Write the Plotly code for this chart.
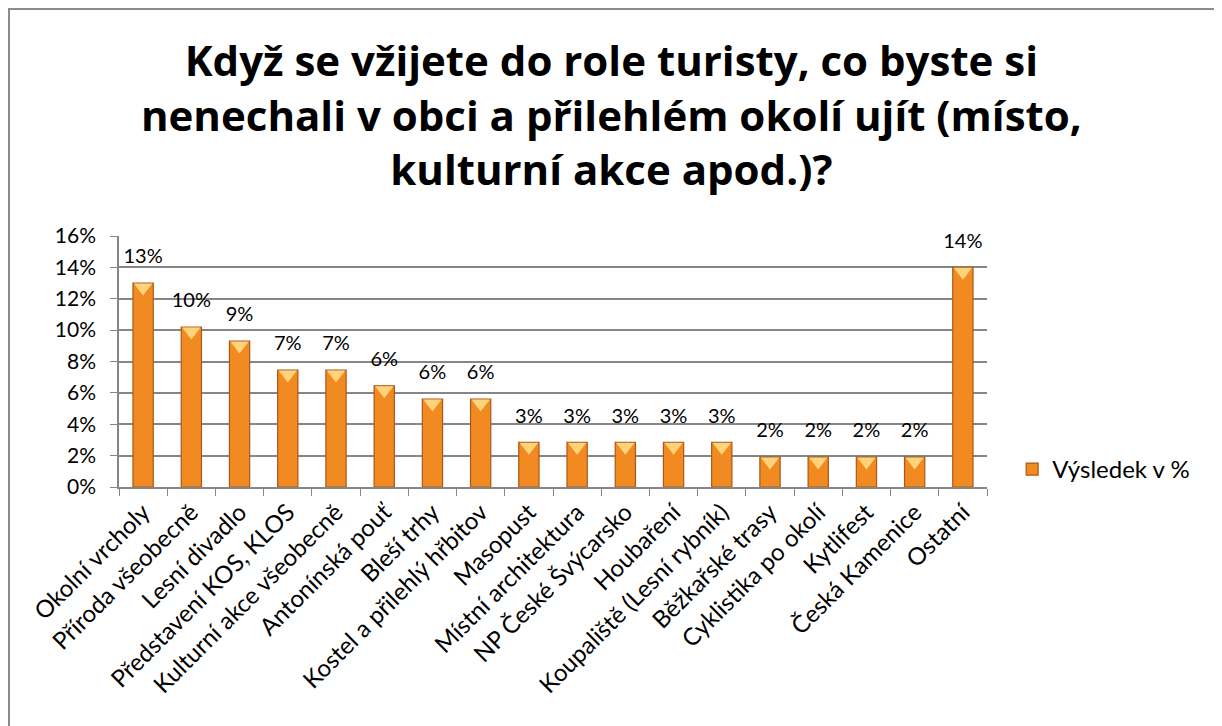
import plotly.graph_objects as go

# Data
categories = [
    "Okolní vrcholy",
    "Příroda všeobecně",
    "Lesní divadlo",
    "Představení KOS, KLOS",
    "Kulturní akce všeobecně",
    "Antonínská pouť",
    "Bleší trhy",
    "Kostel a přilehlý hřbitov",
    "Masopust",
    "Místní architektura",
    "NP České Švýcarsko",
    "Houbaření",
    "Koupaliště (Lesní rybník)",
    "Běžkařské trasy",
    "Cyklistika po okolí",
    "Kytlifest",
    "Česká Kamenice",
    "Ostatní",
]
values = [13.0, 10.2, 9.3, 7.45, 7.45, 6.45, 5.6, 5.6, 2.85, 2.85, 2.85,
          2.85, 2.85, 1.9, 1.9, 1.9, 1.9, 14.0]
series_name = "Výsledek v %"
title_text = ("Když se vžijete do role turisty, co byste si<br>"
              "nenechali v obci a přilehlém okolí ujít (místo,<br>"
              "kulturní akce apod.)?")

font_family = "Lato, 'Open Sans', sans-serif"
grid_col = "#868686"

# page has an 8px body margin, so the figure is shrunk by that much
W, H = 1214, 718

fig = go.Figure()

fig.add_trace(go.Bar(
    x=categories,
    y=values,
    name=series_name,
    marker=dict(color="#F28A22", line=dict(color="#A9581A", width=1.2)),
))

# light bevel cap on top of each bar
fig.add_trace(go.Scatter(
    x=categories,
    y=[v - 0.28 for v in values],
    mode="markers",
    marker=dict(symbol="triangle-down", size=16, color="#FFD37A",
                line=dict(width=0)),
    showlegend=False,
    hoverinfo="skip",
))

# data labels, lifted above the bar tops by an invisible marker
fig.add_trace(go.Scatter(
    x=categories,
    y=values,
    mode="markers+text",
    text=[f"{v:.0f}%" for v in values],
    textposition="top center",
    textfont=dict(size=20, color="black", family=font_family),
    marker=dict(size=22, color="rgba(0,0,0,0)"),
    showlegend=False,
    hoverinfo="skip",
    cliponaxis=False,
))

fig.update_layout(
    width=W,
    height=H,
    paper_bgcolor="white",
    plot_bgcolor="white",
    margin=dict(l=111, r=235, t=228, b=239),
    bargap=0.58,
    font=dict(family=font_family, color="black"),
    title=dict(
        text=title_text,
        x=0.497,
        xanchor="center",
        y=1 - 68 / H,
        yanchor="top",
        font=dict(size=42, family="'Open Sans', sans-serif", color="black",
                  weight="bold"),
    ),
    legend=dict(
        x=1.029,
        xanchor="left",
        y=0.07,
        yanchor="middle",
        font=dict(size=24, family=font_family),
        itemwidth=30,
    ),
    showlegend=True,
)

fig.update_yaxes(
    range=[0, 16],
    dtick=2,
    ticksuffix="%",
    showgrid=True,
    gridcolor=grid_col,
    gridwidth=1.5,
    showline=True,
    linecolor=grid_col,
    linewidth=1.5,
    ticks="outside",
    ticklen=7,
    tickcolor=grid_col,
    tickfont=dict(size=21, family=font_family),
    ticklabelstandoff=10,
    zeroline=False,
    automargin=False,
)

fig.update_xaxes(
    range=[-0.5, len(categories) - 0.5],
    tickangle=-45,
    tickfont=dict(size=24, family=font_family),
    showline=True,
    linecolor=grid_col,
    linewidth=1.5,
    ticks="outside",
    tickson="boundaries",
    ticklen=7,
    tickcolor=grid_col,
    showgrid=False,
    automargin=False,
)

# outer chart frame
fig.add_shape(
    type="rect",
    xref="paper",
    yref="paper",
    x0=(1 - 111) / 868,
    x1=(1209 - 111) / 868,
    y0=(479 - 740) / 251,
    y1=(479 - 1) / 251,
    line=dict(color="#8C8C8C", width=2),
    fillcolor="rgba(0,0,0,0)",
    layer="below",
)

fig.write_html("out.html")
